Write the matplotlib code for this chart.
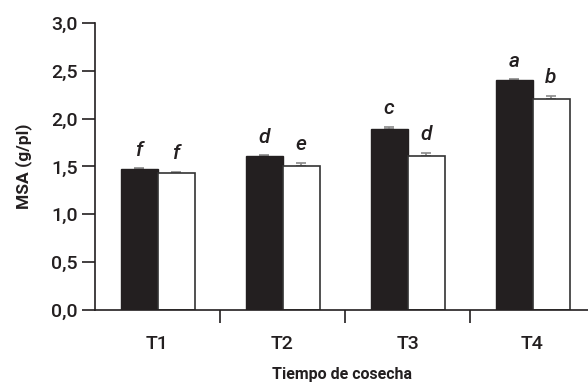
import numpy as np
import matplotlib
matplotlib.use("Agg")
import matplotlib.pyplot as plt

plt.rcParams['font.family'] = ['Roboto', 'DejaVu Sans']

categories = ['T1', 'T2', 'T3', 'T4']
black_vals = [1.47, 1.61, 1.89, 2.40]
black_err = [0.015, 0.01, 0.025, 0.01]
white_vals = [1.43, 1.51, 1.61, 2.205]
white_err = [0.015, 0.03, 0.035, 0.035]
black_letters = ['f', 'd', 'c', 'a']
white_letters = ['f', 'e', 'd', 'b']
yticks = [0.0, 0.5, 1.0, 1.5, 2.0, 2.5, 3.0]

dark = '#231f20'
gray = '#8a8a8a'

fig = plt.figure(figsize=(5.88, 3.84), dpi=100)
ax = fig.add_axes([0.1616, 0.193, 1 - 0.1616, 0.747])

x = np.arange(len(categories))
w = 0.296
ax.bar(x - w/2, black_vals, w, color=dark, edgecolor=dark, linewidth=1, zorder=2)
ax.bar(x + w/2, white_vals, w, color='white', edgecolor='#333333', linewidth=1.2, zorder=2)
ax.errorbar(x - w/2, black_vals, yerr=[[0]*4, black_err], fmt='none', ecolor=gray,
            capsize=3.5, elinewidth=1.2, capthick=1.2, zorder=1)
ax.errorbar(x + w/2, white_vals, yerr=[[0]*4, white_err], fmt='none', ecolor=gray,
            capsize=3.5, elinewidth=1.2, capthick=1.2, zorder=1)

# letras de significancia
for xi, v, e, t in zip(x - w/2, black_vals, black_err, black_letters):
    ax.annotate(t, (xi, v + e), xytext=(0, 6), textcoords='offset points',
                ha='center', va='bottom', style='italic', fontsize=15,
                fontweight='medium', color=dark)
for xi, v, e, t in zip(x + w/2, white_vals, white_err, white_letters):
    ax.annotate(t, (xi, v + e), xytext=(0, 6), textcoords='offset points',
                ha='center', va='bottom', style='italic', fontsize=15,
                fontweight='medium', color=dark)

ax.set_ylim(0, 3)
ax.set_xlim(-0.5, 3.444)
ax.set_yticks(yticks)
ax.set_yticklabels([f'{t:.1f}'.replace('.', ',') for t in yticks], fontweight='medium')
ax.set_xticks(x)
ax.set_xticklabels(categories, fontweight='medium')
ax.set_xticks([0.5, 1.5, 2.5], minor=True)
ax.tick_params(axis='x', which='major', length=0, pad=18, labelsize=14, colors=dark)
ax.tick_params(axis='x', which='minor', length=9, width=1.2, color=dark, direction='out')
ax.tick_params(axis='y', length=9.5, width=1.2, color=dark, labelsize=14, labelcolor=dark, pad=3)

for s in ['top', 'right']:
    ax.spines[s].set_visible(False)
for s in ['left', 'bottom']:
    ax.spines[s].set_linewidth(1.2)
    ax.spines[s].set_color(dark)

ax.set_ylabel('MSA (g/pl)', fontsize=12.5, fontweight='bold', color=dark, labelpad=14)
ax.set_xlabel('Tiempo de cosecha', fontsize=11.5, fontweight='bold', color=dark, labelpad=10.5)

fig.savefig('out.png', dpi=100)
